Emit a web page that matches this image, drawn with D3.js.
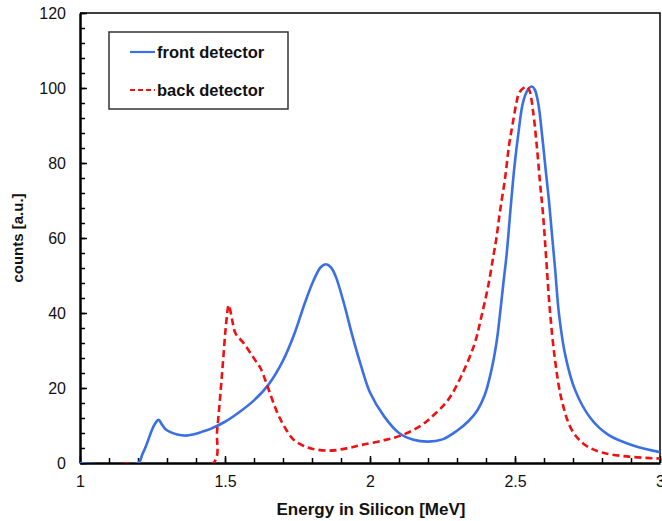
<!DOCTYPE html>
<html><head><meta charset="utf-8">
<script src="https://cdn.jsdelivr.net/npm/d3@7"></script>
<style>body{margin:0;background:#fff}svg{display:block}</style>
</head><body>
<svg id="c" width="662" height="521"></svg>
<script>
const frontEnergy = [1.0, 1.2, 1.215, 1.23, 1.245, 1.258, 1.271, 1.282, 1.295, 1.31, 1.335, 1.365, 1.39, 1.42, 1.45, 1.5, 1.55, 1.6, 1.65, 1.7, 1.74, 1.775, 1.805, 1.83, 1.848, 1.865, 1.882, 1.91, 1.94, 1.97, 2.0, 2.05, 2.1, 2.15, 2.2, 2.25, 2.3, 2.34, 2.37, 2.395, 2.415, 2.436, 2.448, 2.46, 2.471, 2.486, 2.498, 2.511, 2.528, 2.545, 2.558, 2.568, 2.58, 2.594, 2.606, 2.617, 2.628, 2.638, 2.652, 2.674, 2.707, 2.76, 2.822, 2.91, 3.0];
const frontCounts = [0, 0, 2.3, 5.0, 8.2, 10.4, 11.5, 10.3, 9.0, 8.3, 7.6, 7.3, 7.6, 8.3, 9.1, 11.0, 13.6, 16.7, 20.9, 27.3, 34.6, 42.6, 48.6, 52.2, 53.0, 52.2, 49.7, 42.6, 33.7, 25.7, 18.8, 12.3, 8.0, 6.2, 5.7, 6.3, 8.6, 11.2, 14.0, 18.0, 23.5, 32.0, 39.5, 48.0, 55.5, 69.0, 79.0, 87.5, 96.3, 99.6, 100.4, 99.6, 96.0, 87.0, 78.0, 70.0, 60.5, 52.0, 39.5, 28.5, 19.5, 12.0, 7.5, 4.6, 2.9];

const backEnergy = [1.15, 1.459, 1.473, 1.49, 1.505, 1.513, 1.525, 1.536, 1.565, 1.6, 1.623, 1.645, 1.68, 1.71, 1.738, 1.77, 1.8, 1.86, 1.92, 1.97, 2.05, 2.113, 2.176, 2.22, 2.269, 2.315, 2.361, 2.384, 2.407, 2.425, 2.436, 2.448, 2.465, 2.48, 2.491, 2.505, 2.515, 2.54, 2.55, 2.562, 2.574, 2.586, 2.597, 2.608, 2.62, 2.638, 2.661, 2.696, 2.742, 2.8, 2.892, 3.0];
const backCounts = [0, 0, 8.8, 24, 38, 42.1, 38, 34.6, 31.9, 27.9, 25.2, 20.8, 13.5, 9.0, 6.1, 4.6, 3.8, 3.3, 3.9, 4.8, 6.1, 7.5, 10.0, 12.8, 16.8, 23.2, 31.9, 39, 47, 55, 60, 67, 75.5, 85, 90, 96, 98.8, 100.4, 99.3, 94, 85.5, 75, 66, 54, 41, 27.5, 16.8, 8.8, 4.8, 2.8, 1.7, 1.2];

const seriesNames = ["front detector", "back detector"];
const seriesColors = ["#3b6fe6", "#ee1111"];
const xTickValues = [1, 1.5, 2, 2.5, 3];
const xTickLabels = ["1", "1.5", "2", "2.5", "3"];
const yTickValues = [0, 20, 40, 60, 80, 100, 120];
const xTitle = "Energy in Silicon [MeV]";
const yTitle = "counts [a.u.]";

const svg = d3.select("#c");
const L = 80, R = 660, T = 13, B = 463;
const x = d3.scaleLinear().domain([1, 3]).range([L, R]);
const y = d3.scaleLinear().domain([0, 120]).range([B, T]);
const font = "'Liberation Sans', Arial, Helvetica, sans-serif";

svg.append("defs").append("clipPath").attr("id", "clip")
  .append("rect").attr("x", L).attr("y", T).attr("width", R - L).attr("height", B - T);

// minor ticks
const xMinor = d3.range(11, 31).map(v => v / 10);
const yMinor = d3.range(0, 31).map(v => v * 4);
svg.append("g").attr("transform", `translate(0,${B})`)
  .call(d3.axisBottom(x).tickValues(xMinor).tickSizeInner(-5).tickSizeOuter(0).tickFormat(""))
  .call(g => g.select(".domain").remove())
  .call(g => g.selectAll("line").attr("stroke", "#000").attr("stroke-width", 1.5));
svg.append("g").attr("transform", `translate(${L},0)`)
  .call(d3.axisLeft(y).tickValues(yMinor).tickSizeInner(-5).tickSizeOuter(0).tickFormat(""))
  .call(g => g.select(".domain").remove())
  .call(g => g.selectAll("line").attr("stroke", "#000").attr("stroke-width", 1.5));

// major axes
svg.append("g").attr("transform", `translate(0,${B})`)
  .call(d3.axisBottom(x).tickValues(xTickValues).tickSizeInner(-7).tickSizeOuter(0).tickPadding(13)
    .tickFormat((d, i) => xTickLabels[i]))
  .call(g => g.select(".domain").attr("stroke", "#000").attr("stroke-width", 2.5))
  .call(g => g.selectAll("line").attr("stroke", "#000").attr("stroke-width", 1.5))
  .call(g => g.selectAll("text").attr("font-family", font).attr("font-size", 16).attr("fill", "#111"));
svg.append("g").attr("transform", `translate(${L},0)`)
  .call(d3.axisLeft(y).tickValues(yTickValues).tickSizeInner(-7).tickSizeOuter(0).tickPadding(14))
  .call(g => g.select(".domain").attr("stroke", "#000").attr("stroke-width", 2.5))
  .call(g => g.selectAll("line").attr("stroke", "#000").attr("stroke-width", 1.5))
  .call(g => g.selectAll("text").attr("font-family", font).attr("font-size", 16).attr("fill", "#111"));

// frame top and right
svg.append("path").attr("d", `M${L},${T}H${R}V${B}`).attr("fill", "none")
  .attr("stroke", "#000").attr("stroke-width", 1.5);

// curves
const line = d3.line().curve(d3.curveCatmullRom.alpha(0.5));
const plot = svg.append("g").attr("clip-path", "url(#clip)");
plot.append("path")
  .attr("d", line(frontEnergy.map((e, i) => [x(e), y(frontCounts[i])])))
  .attr("fill", "none").attr("stroke", seriesColors[0]).attr("stroke-width", 2.6)
  .attr("stroke-linejoin", "round");
plot.append("path")
  .attr("d", line(backEnergy.map((e, i) => [x(e), y(backCounts[i])])))
  .attr("fill", "none").attr("stroke", seriesColors[1]).attr("stroke-width", 2.6)
  .attr("stroke-dasharray", "7,4");

// legend
const lg = svg.append("g");
lg.append("rect").attr("x", 109).attr("y", 32).attr("width", 179).attr("height", 77)
  .attr("fill", "#fff").attr("stroke", "#333").attr("stroke-width", 1.5);
seriesNames.forEach((name, i) => {
  const yy = 52 + i * 38;
  lg.append("line").attr("x1", 130).attr("x2", 155).attr("y1", yy).attr("y2", yy)
    .attr("stroke", seriesColors[i]).attr("stroke-width", 2.2)
    .attr("stroke-dasharray", i === 1 ? "5,3" : null);
  lg.append("text").attr("x", 157).attr("y", yy).attr("dy", "0.35em")
    .attr("font-family", font).attr("font-size", 16.5).attr("font-weight", "bold").attr("fill", "#111")
    .text(name);
});

// axis titles
svg.append("text").attr("x", (L + R) / 2 + 1).attr("y", 515).attr("text-anchor", "middle")
  .attr("font-family", font).attr("font-size", 17).attr("font-weight", "bold").attr("fill", "#111")
  .text(xTitle);
svg.append("text").attr("transform", `translate(23,${(T + B) / 2}) rotate(-90)`).attr("text-anchor", "middle")
  .attr("font-family", font).attr("font-size", 15).attr("font-weight", "bold").attr("fill", "#111")
  .text(yTitle);
</script>
</body></html>
